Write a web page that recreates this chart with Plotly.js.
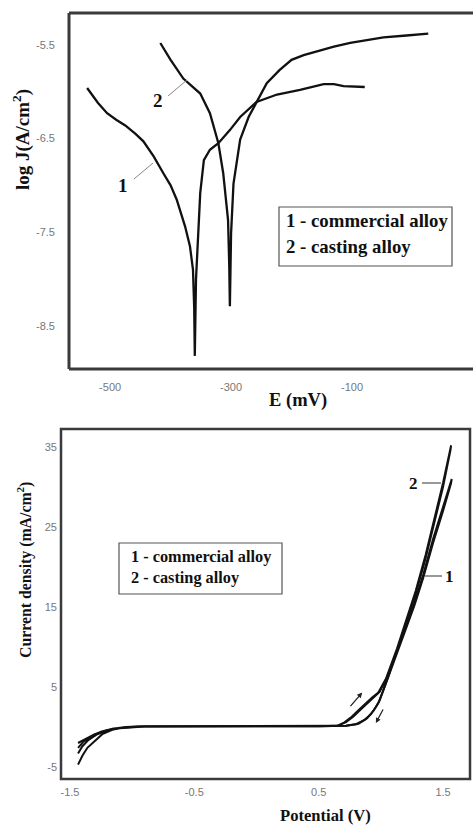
<!DOCTYPE html>
<html>
<head>
<meta charset="utf-8">
<script src="https://cdn.plot.ly/plotly-3.0.1.min.js"></script>
<style>html,body{margin:0;padding:0;background:#fff;}#chart{width:473px;height:825px;}</style>
</head>
<body>
<div id="chart"></div>
<script>
// ---- Top chart: polarization curves (E in mV, log J) ----
const topE1 = [-538,-520,-505,-490,-475,-458,-445,-428,-412,-400,-390,-376,-368,-363,-361,-360,-358,-355,-351,-345,-335,-321,-302,-285,-258,-224,-186,-147,-130,-114,-79];
const topJ1 = [-5.96,-6.12,-6.23,-6.30,-6.36,-6.45,-6.53,-6.69,-6.87,-7.00,-7.15,-7.44,-7.65,-7.90,-8.30,-8.82,-8.00,-7.55,-7.08,-6.73,-6.62,-6.55,-6.41,-6.27,-6.11,-6.03,-5.98,-5.92,-5.92,-5.94,-5.95];
const topE2 = [-417,-400,-379,-365,-351,-335,-321,-313,-305,-303,-302,-301,-300,-296,-290,-285,-271,-255,-241,-220,-200,-180,-158,-130,-103,-75,-48,-10,26];
const topJ2 = [-5.48,-5.66,-5.86,-5.94,-6.02,-6.23,-6.55,-6.87,-7.37,-7.87,-8.29,-7.90,-7.51,-6.98,-6.70,-6.51,-6.27,-6.07,-5.91,-5.77,-5.66,-5.61,-5.57,-5.52,-5.48,-5.45,-5.42,-5.40,-5.38];
const topXTicks = [-500,-300,-100];
const topXTickText = ['-500','-300','-100'];
const topYTicks = [-5.5,-6.5,-7.5,-8.5];
const topYTickText = ['-5.5','-6.5','-7.5','-8.5'];

// ---- Bottom chart: cyclic curves (Potential V, current density mA/cm2) ----
const botV1 = [-1.435,-1.40,-1.36,-1.30,-1.24,-1.15,-1.05,-0.9,-0.5,0,0.5,0.65,0.72,0.78,0.84,0.90,0.95,0.99,1.05,1.13,1.20,1.27,1.34,1.42,1.50,1.57,
               1.565,1.50,1.42,1.34,1.27,1.20,1.13,1.06,1.02,0.99,0.96,0.92,0.87,0.80,0.72,0.5,0,-0.5,-0.9,-1.1,-1.2,-1.3,-1.38,-1.435];
const botJ1 = [-4.7,-3.6,-2.6,-1.7,-0.9,-0.3,0.0,0.1,0.1,0.1,0.1,0.15,0.6,1.3,2.2,3.1,3.8,4.4,6.2,9.5,12.5,15.5,19.0,23.5,27.5,31.0,
               30.5,27.0,23.0,18.6,15.2,12.2,9.2,6.1,4.5,3.3,2.5,1.6,0.9,0.35,0.15,0.1,0.1,0.1,0.05,-0.15,-0.4,-0.9,-1.5,-2.0];
const botV2 = [-1.435,-1.40,-1.35,-1.28,-1.20,-1.10,-0.95,-0.5,0,0.5,0.65,0.70,0.76,0.82,0.88,0.93,0.98,1.04,1.13,1.20,1.28,1.36,1.43,1.50,1.565,
               1.56,1.50,1.43,1.36,1.28,1.20,1.13,1.06,1.01,0.98,0.94,0.89,0.82,0.72,0.5,0,-0.5,-0.95,-1.15,-1.25,-1.33,-1.39,-1.435];
const botJ2 = [-3.3,-2.4,-1.6,-0.9,-0.4,-0.1,0.05,0.1,0.1,0.1,0.15,0.5,1.2,2.1,3.0,3.7,4.3,6.0,9.8,13.2,17.0,21.5,26.0,30.5,35.2,
               34.6,30.0,25.6,21.1,16.6,12.8,9.4,6.3,4.2,3.0,2.0,1.1,0.4,0.15,0.1,0.1,0.1,0.05,-0.2,-0.6,-1.2,-1.8,-2.6];
const botXTicks = [-1.5,-0.5,0.5,1.5];
const botXTickText = ['-1.5','-0.5','0.5','1.5'];
const botYTicks = [35,25,15,5,-5];
const botYTickText = ['35','25','15','5','-5'];

const legendLines = ['1 - commercial alloy','2 - casting alloy'];

// pixel -> paper helpers for decorations
const W = 473, H = 825;
const px = x => x / W;
const py = y => 1 - y / H;

const lineStyle = {color:'#111', width:2.3};
const traces = [
  {x: topE1, y: topJ1, xaxis:'x', yaxis:'y', mode:'lines', line: lineStyle, name:'1', showlegend:false},
  {x: topE2, y: topJ2, xaxis:'x', yaxis:'y', mode:'lines', line: lineStyle, name:'2', showlegend:false},
  {x: botV1, y: botJ1, xaxis:'x2', yaxis:'y2', mode:'lines', line: {color:'#111', width:2}, name:'1', showlegend:false},
  {x: botV2, y: botJ2, xaxis:'x2', yaxis:'y2', mode:'lines', line: {color:'#111', width:2}, name:'2', showlegend:false}
];

const tickFont = {family:'Liberation Sans, Arial, sans-serif', size:11, color:'#777'};
const serifBold = (size) => ({family:'Liberation Serif, Times New Roman, serif', size:size, color:'#111', weight:'bold'});

const axisBase = {showgrid:false, zeroline:false, showline:false, ticks:'', tickfont: tickFont, fixedrange:true};

const frameColor = '#3a3a3a';
const shapes = [
  // top frame (left, top, bottom)
  {type:'line', xref:'paper', yref:'paper', x0:px(69), x1:px(69), y0:py(13), y1:py(369), line:{color:frameColor, width:3}},
  {type:'line', xref:'paper', yref:'paper', x0:px(69), x1:px(473), y0:py(13), y1:py(13), line:{color:frameColor, width:3}},
  {type:'line', xref:'paper', yref:'paper', x0:px(69), x1:px(473), y0:py(369), y1:py(369), line:{color:frameColor, width:3}},
  // bottom frame
  {type:'rect', xref:'paper', yref:'paper', x0:px(61), x1:px(470), y0:py(779), y1:py(429), line:{color:frameColor, width:2.5}},
  // legend boxes
  {type:'rect', xref:'paper', yref:'paper', x0:px(279), x1:px(452), y0:py(266), y1:py(207), line:{color:'#555', width:1.2}},
  {type:'rect', xref:'paper', yref:'paper', x0:px(119), x1:px(282), y0:py(594), y1:py(543), line:{color:'#555', width:1.2}},
  // leader lines for curve labels
  {type:'line', xref:'paper', yref:'paper', x0:px(168), x1:px(187), y0:py(96), y1:py(80), line:{color:'#888', width:1}},
  {type:'line', xref:'paper', yref:'paper', x0:px(134), x1:px(153), y0:py(179), y1:py(163), line:{color:'#888', width:1}},
  {type:'line', xref:'paper', yref:'paper', x0:px(422), x1:px(441), y0:py(483), y1:py(483), line:{color:'#555', width:1.2}},
  {type:'line', xref:'paper', yref:'paper', x0:px(425), x1:px(442), y0:py(576), y1:py(576), line:{color:'#555', width:1.2}}
];

const ann = (text, x, y, size, extra) => Object.assign({text:'<b>'+text+'</b>', x:px(x), y:py(y), xref:'paper', yref:'paper', xanchor:'center', yanchor:'middle', showarrow:false, font:serifBold(size)}, extra||{});

const annotations = [
  ann('log J(A/cm<sup>2</sup>)', 22, 140, 19, {textangle:-90}),
  ann('E (mV)', 298, 400, 18.5),
  ann('Current density (mA/cm<sup>2</sup>)', 24, 570, 15.8, {textangle:-90}),
  ann('Potential (V)', 325, 815, 16.6),
  ann(legendLines[0], 284, 221, 18.8, {xanchor:'left'}),
  ann(legendLines[1], 284, 247, 18.8, {xanchor:'left'}),
  ann(legendLines[0], 129, 556, 16.3, {xanchor:'left'}),
  ann(legendLines[1], 129, 577, 16.3, {xanchor:'left'}),
  ann('2', 158, 100, 19),
  ann('1', 123, 185, 19),
  ann('2', 413, 483, 17),
  ann('1', 449, 576, 17),
  // direction arrows
  {x:0.85, y:4.3, xref:'x2', yref:'y2', text:'', showarrow:true, arrowhead:2, arrowsize:0.8, arrowwidth:1.3, arrowcolor:'#222', ax:-13, ay:15},
  {x:0.96, y:0.5, xref:'x2', yref:'y2', text:'', showarrow:true, arrowhead:2, arrowsize:0.8, arrowwidth:1.3, arrowcolor:'#222', ax:8, ay:-15}
];

const layout = {
  width: W, height: H,
  margin: {l:0, r:0, t:0, b:0},
  paper_bgcolor:'#fff', plot_bgcolor:'#fff',
  showlegend:false,
  xaxis: Object.assign({}, axisBase, {domain:[px(69), 1], range:[-568, 100], anchor:'y', tickvals: topXTicks, ticktext: topXTickText, ticklabelstandoff: 10}),
  yaxis: Object.assign({}, axisBase, {domain:[py(369), py(13)], range:[-8.96, -5.16], anchor:'x', tickvals: topYTicks, ticktext: topYTickText, ticklabelstandoff: 13}),
  xaxis2: Object.assign({}, axisBase, {domain:[px(61), px(470)], range:[-1.572, 1.717], anchor:'y2', tickvals: botXTicks, ticktext: botXTickText, ticklabelstandoff: 5}),
  yaxis2: Object.assign({}, axisBase, {domain:[py(779), py(429)], range:[-6.5, 37.25], anchor:'x2', tickvals: botYTicks, ticktext: botYTickText, ticklabelstandoff: 3}),
  shapes, annotations
};

Plotly.newPlot('chart', traces, layout, {displayModeBar:false, staticPlot:true});
</script>
</body>
</html>
